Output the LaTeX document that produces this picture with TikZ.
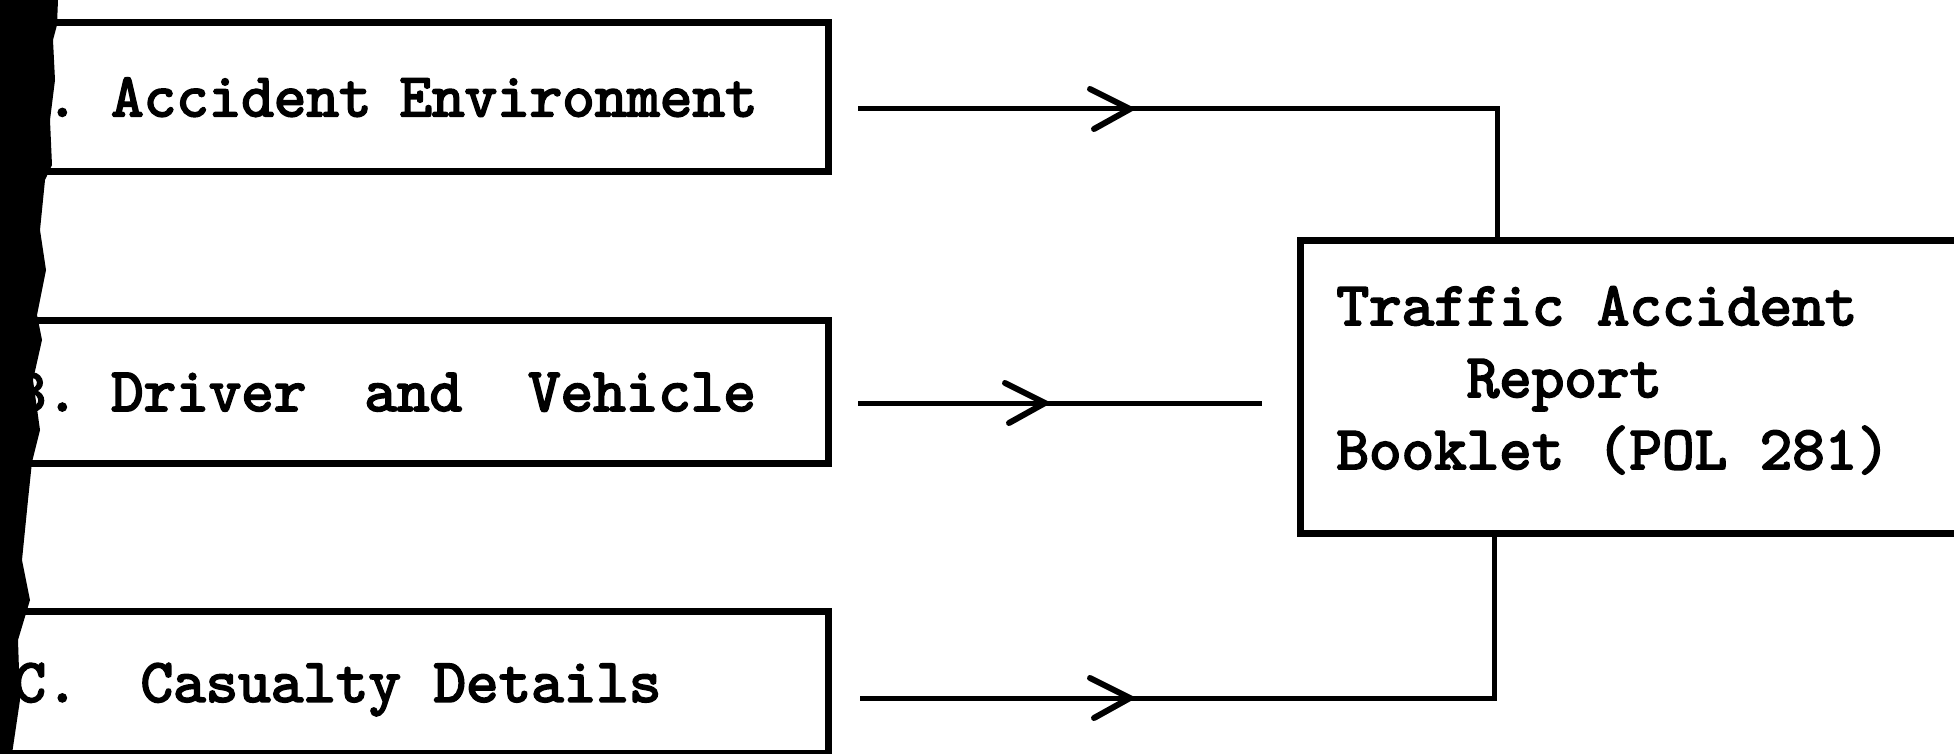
\documentclass[tikz,border=0pt]{standalone}
\usepackage{fontspec}
\newfontfamily\boxfont{lmmono10-regular.otf}[FakeBold=3]
\newcommand{\blank}{\hphantom{x}}
\begin{document}
\begin{tikzpicture}[x=1pt,y=-1pt,
  every node/.style={font=\boxfont\fontsize{62}{72}\selectfont},
  lbox/.style={draw, line width=7pt, rectangle, anchor=north west,
    inner xsep=30pt, inner ysep=0pt, text width=785pt, align=left,
    text depth=0pt},
  rbox/.style={draw, line width=7pt, rectangle, anchor=north west,
    inner xsep=36pt, inner ysep=0pt, text width=728pt, align=left,
    minimum width=800pt, minimum height=293.5pt},
  conn/.style={line width=5pt},
  vhead/.pic={\draw[line width=6pt, line cap=round, line join=miter]
    (-40,-20) -- (0,0) -- (-36,20);}
]
\clip (0,0) rectangle (1954,754);
\useasboundingbox (0,0) rectangle (1954,754);
\fill[white] (0,0) rectangle (1954,754);

% left boxes
\node[lbox, minimum height=149pt] (A) at (-20,19)
  {A.\blank Accident\hspace{28pt}Environment};
\node[lbox, minimum height=143pt] (B) at (-20,317)
  {B.\blank Driver\hspace{58pt}and\hspace{66pt}Vehicle};
\node[lbox, minimum height=142pt] (C) at (-20,608)
  {C.\hspace{62pt}Casualty\blank Details};

% right box
\node[rbox] (R) at (1297,236.5) {Traffic\blank Accident\\
  \blank\blank\blank\blank Report\\
  Booklet\blank(POL\blank 281)\rule[-18pt]{0pt}{0pt}};

% connector end points
\coordinate (a0) at (858,109);
\coordinate (ja) at (1497,109);
\coordinate (b0) at (858,403);
\coordinate (b1) at (1262,403);
\coordinate (c0) at (860,698);
\coordinate (jc) at (1494,698);

\draw[conn] (a0) -- (ja) -- (ja |- R.north);
\draw[conn] (b0) -- (b1);
\draw[conn] (c0) -- (jc) -- (jc |- R.south);

\pic at (1130,109) {vhead};
\pic at (1045,403) {vhead};
\pic at (1130,698) {vhead};

% dark scanned edge at the left
\fill[black] (0,0) -- (58,0) -- (57,25) -- (53,40) -- (55,80) -- (50,120)
  -- (52,165) -- (45,180) -- (40,230) -- (46,270) -- (37,315) -- (42,340)
  -- (33,380) -- (40,430) -- (32,462) -- (28,500) -- (22,560) -- (30,600)
  -- (18,640) -- (20,700) -- (12,754) -- (0,754) -- cycle;
\end{tikzpicture}
\end{document}
